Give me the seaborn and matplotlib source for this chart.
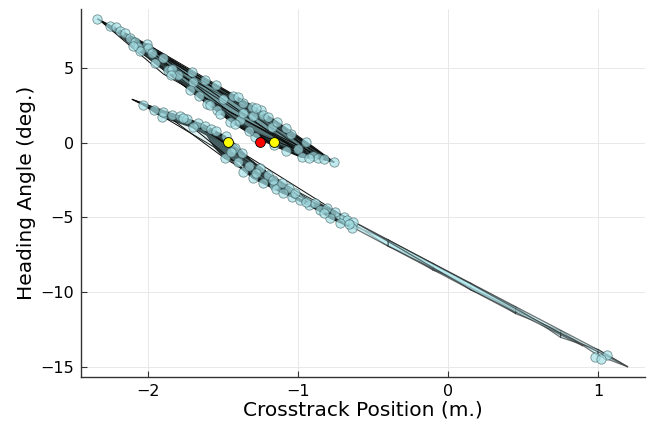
import seaborn as sns
import matplotlib.pyplot as plt
from matplotlib.patches import Polygon

# sampled states (crosstrack, heading) drawn as circles
upper_x = [-2.34, -2.255, -2.215, -2.19, -2.155, -2.121, -2.088, -2.07, -2.01, -1.999, -2.055, -1.977,
           -1.955, -1.866, -1.843, -1.80, -1.71, -1.699, -1.721, -1.61, -1.588, -1.543, -1.50, -1.432,
           -1.454, -1.39, -1.366, -1.366, -1.31, -1.299, -1.25, -1.232, -1.176, -1.143, -1.287, -1.05,
           -1.165, -1.0, -0.976, -0.899, -0.865, -0.825, -0.76,
           -1.9, -1.62, -1.55, -1.40, -1.28, -1.2, -1.08, -0.95,
           -2.1, -1.85, -1.66, -1.52, -1.42, -1.33, -1.08, -0.93]
upper_y = [8.29, 7.82, 7.73, 7.45, 7.33, 6.99, 6.77, 6.4, 6.59, 6.32, 6.16, 5.99,
           5.32, 4.87, 4.92, 4.55, 4.76, 4.09, 3.53, 2.59, 2.53, 2.19, 2.95, 3.13,
           1.41, 1.55, 2.68, 1.97, 2.41, 1.79, 2.2, 1.86, 1.07, 1.41, 0.4, 0.6,
           -0.15, -0.45, -0.98, -0.89, -1.05, -1.11, -1.31,
           5.65, 4.2, 3.85, 3.05, 2.3, 1.75, 1.0, 0.05,
           6.5, 4.55, 3.1, 1.9, 1.25, 0.75, -0.55, -1.0]

lower_x = [-2.033, -1.91, -1.899, -1.843, -1.792, -1.743, -1.666, -1.621, -1.703, -1.58, -1.485,
           -1.421, -1.488, -1.399, -1.376, -1.366, -1.254, -1.299, -1.199, -1.232, -1.165, -1.15,
           -1.11, -1.065, -1.099, -1.043, -0.987, -0.93, -0.887, -0.854, -0.809, -0.754, -0.787,
           -0.698, -0.676, -0.632, -0.643, 0.98, 1.06,
           -1.96, -1.77, -1.55, -1.45, -1.33, -1.28, -1.17, -1.02, -0.95, -0.83, -0.72, -0.66, 1.02]
lower_y = [2.53, 1.74, 2.08, 1.86, 1.79, 1.57, 1.3, 1.12, 1.03, 0.9, 0.45,
           -0.38, -1.04, -1.27, -0.71, -1.94, -1.72, -2.38, -2.16, -2.72, -2.83, -3.1,
           -2.72, -3.05, -3.39, -3.62, -3.84, -4.2, -4.06, -4.51, -4.39, -4.62, -5.06,
           -4.96, -5.18, -5.29, -5.73, -14.33, -14.2,
           2.2, 1.65, 0.75, -0.6, -1.55, -2.05, -2.5, -3.4, -3.95, -4.7, -5.35, -5.45, -14.5]

# initial / nominal points
red_x, red_y = [-1.254], [0.05]
yellow_x, yellow_y = [-1.466, -1.161], [0.02, 0.02]

# dense reachable regions (outline, drawn dark underneath)
upper_hull = [(-2.34, 8.3), (-2.0, 6.55), (-1.71, 4.75), (-1.43, 3.15), (-1.3, 2.45), (-1.14, 1.4),
              (-0.9, -0.27), (-0.76, -1.31), (-0.85, -1.1), (-0.98, -0.98), (-1.165, -0.2),
              (-1.29, 0.4), (-1.45, 1.4), (-1.59, 2.5), (-1.72, 3.5), (-1.95, 5.3), (-2.06, 6.15),
              (-2.25, 7.75)]
lower_hull = [(-2.11, 2.91), (-2.03, 2.6), (-1.9, 2.1), (-1.79, 1.8), (-1.62, 1.15), (-1.49, 0.45),
              (-1.44, -0.1), (-1.37, -0.7), (-1.25, -1.7), (-1.11, -2.7), (-0.99, -3.8),
              (-0.89, -4.05), (-0.75, -4.6), (-0.63, -5.3), (-0.64, -5.72), (-0.79, -5.05),
              (-0.86, -4.55), (-1.04, -3.65), (-1.1, -3.4), (-1.3, -2.4), (-1.39, -1.3),
              (-1.49, -1.05), (-1.56, -0.3), (-1.61, 0.5), (-1.7, 1.0), (-1.91, 1.72), (-2.03, 2.5)]

# individual reach sets
upper_sets = [
    [(-2.34, 8.3), (-1.71, 4.75), (-0.76, -1.31), (-1.6, 2.55)],
    [(-2.25, 7.8), (-1.43, 3.15), (-0.83, -1.12), (-1.45, 1.45)],
    [(-2.0, 6.55), (-1.3, 2.45), (-0.87, -1.05), (-1.29, 0.45)],
    [(-2.15, 7.3), (-1.5, 3.3), (-0.9, -0.9), (-1.72, 3.5)],
    [(-2.06, 6.15), (-1.37, 2.7), (-0.98, -0.98), (-1.55, 2.15)],
    [(-1.95, 5.3), (-1.23, 1.85), (-0.76, -1.31), (-1.165, -0.15)],
    [(-2.2, 7.6), (-1.14, 1.4), (-0.9, -0.9), (-1.37, 1.0)],
    [(-2.3, 8.0), (-1.84, 4.9), (-1.0, -0.5), (-1.9, 4.6)],
    [(-2.1, 7.0), (-1.6, 3.9), (-0.95, -0.6), (-1.45, 2.0)],
    [(-1.99, 6.3), (-1.55, 3.6), (-0.8, -1.2), (-1.2, 0.8)],
]
lower_sets = [
    [(-2.11, 2.91), (-1.62, 1.15), (-1.44, -0.3), (-1.7, 1.0)],
    [(-2.03, 2.5), (-1.49, 0.45), (-1.3, -2.4), (-1.56, -0.3)],
    [(-1.9, 2.0), (-1.45, 0.2), (-1.1, -3.4), (-1.49, -1.05)],
    [(-1.6, 0.8), (-1.25, -1.7), (-0.64, -5.72), (-1.04, -3.65)],
    [(-1.45, -0.2), (-1.11, -2.7), (-0.63, -5.3), (-0.86, -4.55)],
    [(-1.39, -1.3), (-0.99, -3.8), (-0.7, -5.1), (-1.2, -2.8)],
    [(-1.8, 1.8), (-1.37, -0.7), (-0.75, -4.6), (-1.3, -2.3)],
]
strip_sets = [
    [(-0.75, -4.65), (-0.4, -6.94), (-0.4, -6.5), (-0.75, -5.09)],
    [(-0.4, -6.5), (-0.1, -8.54), (-0.1, -8.1), (-0.4, -6.94)],
    [(-0.1, -8.1), (0.15, -9.86), (0.15, -9.42), (-0.1, -8.54)],
    [(0.15, -9.42), (0.45, -11.45), (0.45, -11.01), (0.15, -9.86)],
    [(0.45, -11.01), (0.75, -13.04), (0.75, -12.6), (0.45, -11.45)],
    [(0.75, -12.6), (1.0, -14.25), (1.0, -13.85), (0.75, -13.04)],
    [(1.0, -13.85), (1.2, -15.02), (1.0, -14.25)],
    [(-0.75, -4.67), (0.45, -11.03), (0.45, -11.43), (-0.75, -5.07)],
    [(-0.4, -6.52), (1.0, -13.87), (1.2, -15.02), (-0.4, -6.92)],
    [(-0.6, -5.45), (0.15, -9.45), (0.9, -13.62), (0.15, -9.83)],
]

sns.set_theme(style="white")
plt.rcParams['font.family'] = ['DejaVu Sans']

fig = plt.figure(figsize=(6.52, 4.30), dpi=100)
ax = fig.add_axes([0.1238, 0.1233, 0.8655, 0.8557])

for hull in [upper_hull, lower_hull]:
    ax.add_patch(Polygon(hull, closed=True, facecolor="#1a2728", edgecolor="#111111", lw=0.8, zorder=2))
for s in upper_sets + lower_sets:
    ax.add_patch(Polygon(s, closed=True, facecolor="#9fd8dc", alpha=0.12, edgecolor="none", zorder=2))
    ax.add_patch(Polygon(s, closed=True, fill=False, edgecolor="#0b0b0b", lw=0.7, zorder=2))
for s in strip_sets:
    ax.add_patch(Polygon(s, closed=True, facecolor="#b8eef3", alpha=0.6, edgecolor="#1a1a1a", lw=0.9, zorder=2))

sns.scatterplot(x=upper_x + lower_x, y=upper_y + lower_y, ax=ax, s=45, color="#a6e2e8", alpha=0.7,
                edgecolor="#3b5a5d", linewidth=0.55, zorder=3)
sns.scatterplot(x=red_x, y=red_y, ax=ax, s=50, color="red", edgecolor="black", linewidth=0.6, zorder=4)
sns.scatterplot(x=yellow_x, y=yellow_y, ax=ax, s=50, color="yellow", edgecolor="black", linewidth=0.6, zorder=4)

ax.set_xlim(-2.451, 1.313)
ax.set_ylim(-15.69, 8.95)
ax.set_xticks([-2, -1, 0, 1])
ax.set_yticks([-15, -10, -5, 0, 5])
ax.grid(True, color="#e8e8e8", lw=0.7)
ax.set_axisbelow(True)
for side in ["top", "right"]:
    ax.spines[side].set_visible(False)
for side in ["left", "bottom"]:
    ax.spines[side].set_color("#333333")
    ax.spines[side].set_linewidth(1.0)
ax.tick_params(direction="in", length=4, width=0.8, color="#333333", labelsize=11.5,
               left=True, bottom=True, pad=5, labelcolor="black")
ax.set_xlabel("Crosstrack Position (m.)", fontsize=14.5, labelpad=1, color="black")
ax.set_ylabel("Heading Angle (deg.)", fontsize=14.5, labelpad=3, color="black")

fig.savefig("out.png", dpi=100)
